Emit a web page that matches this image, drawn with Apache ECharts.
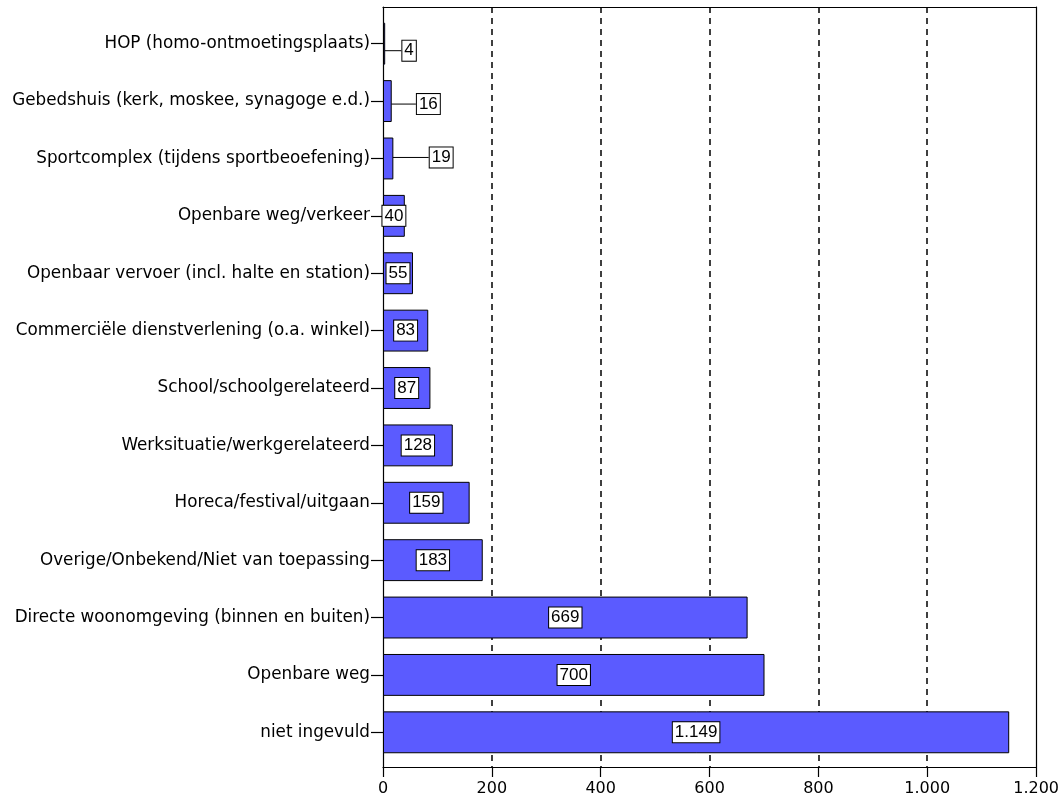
<!DOCTYPE html>
<html><head><meta charset="utf-8">
<script src="https://cdn.jsdelivr.net/npm/echarts@6/dist/echarts.min.js"></script>
<style>html,body{margin:0;padding:0;background:#fff}#c{width:1062px;height:801px}</style>
</head><body><div id="c"></div>
<script>
const categories = [
  "HOP (homo-ontmoetingsplaats)",
  "Gebedshuis (kerk, moskee, synagoge e.d.)",
  "Sportcomplex (tijdens sportbeoefening)",
  "Openbare weg/verkeer",
  "Openbaar vervoer (incl. halte en station)",
  "Commerciële dienstverlening (o.a. winkel)",
  "School/schoolgerelateerd",
  "Werksituatie/werkgerelateerd",
  "Horeca/festival/uitgaan",
  "Overige/Onbekend/Niet van toepassing",
  "Directe woonomgeving (binnen en buiten)",
  "Openbare weg",
  "niet ingevuld"
];
const values = [4, 16, 19, 40, 55, 83, 87, 128, 159, 183, 669, 700, 1149];
const xTicks = [0, 200, 400, 600, 800, 1000, 1200];

function fmt(v){ return String(v).replace(/\B(?=(\d{3})+(?!\d))/g, '.'); }
const shifted = {0:[25,7],1:[41,3],2:[53,-1]};
const XMIN = xTicks[0], XMAX = xTicks[xTicks.length-1];
function lineBlack(){ return {show:true,onZero:false,lineStyle:{color:'#000',width:1.2}}; }

const chart = echarts.init(document.getElementById('c'), null, {renderer:'canvas'});
chart.setOption({
  animation:false,
  grid:[
    {left:383,right:25,top:7,bottom:34},
    {left:383,right:25,top:15,bottom:40}
  ],
  xAxis:[
    {type:'value',gridIndex:0,position:'bottom',min:XMIN,max:XMAX,interval:200,
      axisLine:lineBlack(),
      axisTick:{show:true,length:10,lineStyle:{color:'#000',width:1.2}},
      axisLabel:{color:'#000',fontFamily:'DejaVu Sans',fontSize:16,margin:14,formatter:v=>fmt(v)},
      splitLine:{show:true,showMinLine:false,showMaxLine:false,lineStyle:{color:'#000',type:[6,5],width:1.5}}
    },
    {type:'value',gridIndex:0,position:'top',min:XMIN,max:XMAX,
      axisLine:lineBlack(),axisTick:{show:false},axisLabel:{show:false},splitLine:{show:false}},
    {type:'value',gridIndex:1,min:XMIN,max:XMAX,show:false}
  ],
  yAxis:[
    {type:'value',gridIndex:0,position:'left',min:0,max:1,
      axisLine:lineBlack(),axisTick:{show:false},axisLabel:{show:false},splitLine:{show:false}},
    {type:'value',gridIndex:0,position:'right',min:0,max:1,
      axisLine:lineBlack(),axisTick:{show:false},axisLabel:{show:false},splitLine:{show:false}},
    {type:'category',gridIndex:1,data:categories,inverse:true,
      axisLine:{show:false},
      axisTick:{show:true,alignWithLabel:true,length:12,lineStyle:{color:'#000',width:1.2}},
      axisLabel:{color:'#000',fontFamily:'DejaVu Sans',fontSize:16.8,margin:13},
      splitLine:{show:false}
    }
  ],
  series:[{
    type:'bar',xAxisIndex:2,yAxisIndex:2,data:values,barWidth:'73%',
    itemStyle:{color:'#5b5bff',borderColor:'#000',borderWidth:1},
    label:{show:true,position:'inside',formatter:p=>fmt(p.value),color:'#000',
      fontFamily:'Liberation Sans',fontSize:17,backgroundColor:'#fff',borderColor:'#000',borderWidth:1,padding:[2,2,1,2]},
    labelLine:{show:true,lineStyle:{color:'#000',width:1}},
    labelLayout:function(p){
      const s = shifted[p.dataIndex];
      if(s){ return {dx:s[0],dy:s[1]}; }
      return {};
    }
  }]
});
</script></body></html>
